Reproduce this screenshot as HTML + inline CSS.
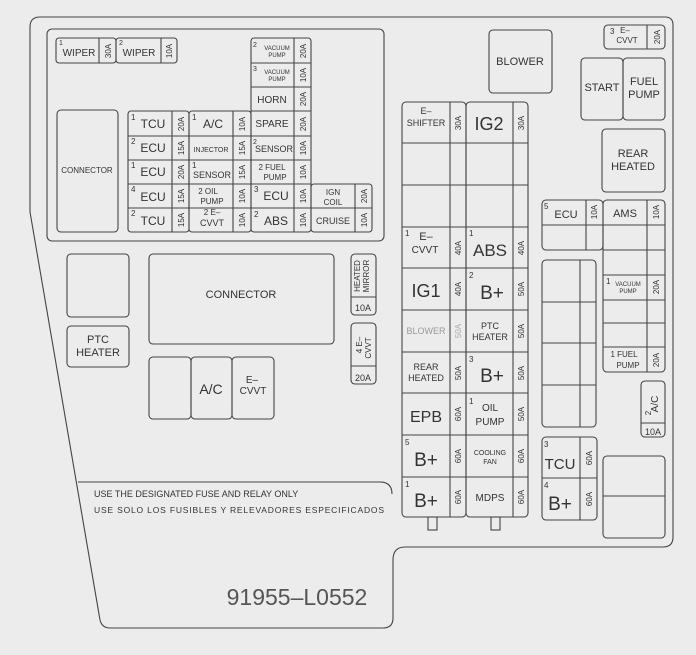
<!DOCTYPE html>
<html><head><meta charset="utf-8"><style>
html,body{margin:0;padding:0;background:#ececec;}
svg{display:block;}
text{font-family:"Liberation Sans",sans-serif;fill:#333;}
</style></head><body>
<svg width="696" height="655" viewBox="0 0 696 655" xmlns="http://www.w3.org/2000/svg">
<rect width="696" height="655" fill="#ececec"/>
<g fill="none" stroke="#444" stroke-width="1.1">
<path d="M40 17 H665 Q673 17 673 25 V537 Q673 547 663 547 H405 Q393 547 393 560 V618 Q393 628 383 628 H110 Q102 628 100 620 L30 212 V27 Q30 17 40 17 Z"/>
<path d="M78 482 H380 Q392 482 392 494"/>
<rect x="47" y="29" width="337" height="212" rx="5"/>
<rect x="57" y="110" width="61" height="122" rx="4"/>
<rect x="489" y="30" width="63" height="63" rx="4"/>
<rect x="581" y="58" width="42" height="62" rx="4"/>
<rect x="623" y="58" width="42" height="62" rx="4"/>
<rect x="602" y="129" width="63" height="63" rx="4"/>
<rect x="604" y="25" width="61" height="24" rx="4"/><line x1="647" y1="25" x2="647" y2="49"/>
<rect x="67" y="254" width="62" height="63" rx="4"/>
<rect x="67" y="326" width="62" height="41" rx="4"/>
<rect x="149" y="254" width="185" height="90" rx="4"/>
<rect x="149" y="357" width="42" height="62" rx="4"/>
<rect x="191" y="357" width="41" height="62" rx="4"/>
<rect x="232" y="357" width="42" height="62" rx="4"/>
<rect x="351" y="254" width="25" height="61" rx="4"/><line x1="351" y1="297" x2="376" y2="297"/>
<rect x="351" y="323" width="25" height="61" rx="4"/><line x1="351" y1="366" x2="376" y2="366"/>
<rect x="402" y="102" width="64" height="415" rx="4"/>
<rect x="466" y="102" width="62" height="415" rx="4"/>
<line x1="450" y1="102" x2="450" y2="517"/><line x1="513" y1="102" x2="513" y2="517"/>
<path d="M402 143H528M402 185H528M402 227H528M402 268H528M402 310H528M402 352H528M402 393H528M402 435H528M402 477H528"/>
<rect x="428" y="517" width="9" height="13"/><rect x="491" y="517" width="9" height="13"/>
<rect x="542" y="200" width="61" height="50" rx="4"/><line x1="586" y1="200" x2="586" y2="250"/><line x1="542" y1="225" x2="603" y2="225"/>
<rect x="603" y="200" width="62" height="172" rx="4"/><line x1="647" y1="200" x2="647" y2="372"/>
<path d="M603 225H665M603 250H665M603 275H665M603 300H665M603 323H665M603 347H665"/>
<rect x="542" y="260" width="54" height="167" rx="4"/><line x1="580" y1="260" x2="580" y2="427"/>
<path d="M542 302H596M542 343H596M542 385H596"/>
<rect x="542" y="437" width="55" height="83" rx="4"/><line x1="580" y1="437" x2="580" y2="520"/><line x1="542" y1="478" x2="597" y2="478"/>
<rect x="641" y="381" width="24" height="56" rx="4"/><line x1="641" y1="423" x2="665" y2="423"/>
<rect x="603" y="456" width="62" height="82" rx="4"/><line x1="603" y1="496" x2="665" y2="496"/>
<rect x="56" y="38" width="60" height="25" rx="3"/><line x1="99" y1="38" x2="99" y2="63"/>
<rect x="116" y="38" width="61" height="25" rx="3"/><line x1="161" y1="38" x2="161" y2="63"/>
<rect x="251" y="38" width="60" height="194" rx="3"/><line x1="294" y1="38" x2="294" y2="232"/>
<path d="M251 63H311M251 87H311M251 111H311M251 136H311M251 160H311M251 184H311M251 208H311"/>
<rect x="128" y="111" width="61" height="121" rx="3"/><line x1="172" y1="111" x2="172" y2="232"/>
<rect x="189" y="111" width="62" height="121" rx="3"/><line x1="233" y1="111" x2="233" y2="232"/>
<path d="M128 136H251M128 160H251M128 184H251M128 208H251"/>
<rect x="311" y="184" width="61" height="48" rx="3"/><line x1="355" y1="184" x2="355" y2="232"/><line x1="311" y1="208" x2="372" y2="208"/>
</g>

<g font-size="11" text-anchor="middle">
<text x="79" y="56" font-size="10">WIPER</text><text x="59" y="45" font-size="7" text-anchor="start">1</text>
<text x="139" y="56" font-size="10">WIPER</text><text x="119" y="45" font-size="7" text-anchor="start">2</text>
<text x="87" y="173" font-size="8">CONNECTOR</text>
<g font-size="6"><text x="277" y="50">VACUUM</text><text x="277" y="57">PUMP</text><text x="277" y="74">VACUUM</text><text x="277" y="81">PUMP</text></g>
<g font-size="7" text-anchor="start"><text x="253" y="47">2</text><text x="253" y="71">3</text></g>
<text x="272" y="103" font-size="10">HORN</text>
<text x="272" y="127" font-size="10">SPARE</text>
<text x="274" y="152" font-size="9">SENSOR</text><text x="253" y="144" font-size="7" text-anchor="start">2</text>
<text x="272" y="170" font-size="8">2 FUEL</text><text x="275" y="180" font-size="8">PUMP</text>
<text x="276" y="200" font-size="12">ECU</text><text x="254" y="192" font-size="8" text-anchor="start">3</text>
<text x="276" y="225" font-size="12">ABS</text><text x="254" y="217" font-size="8" text-anchor="start">2</text>
<text x="153" y="128" font-size="12">TCU</text><text x="131" y="120" font-size="8" text-anchor="start">1</text>
<text x="153" y="152" font-size="12">ECU</text><text x="131" y="144" font-size="8" text-anchor="start">2</text>
<text x="153" y="176" font-size="12">ECU</text><text x="131" y="168" font-size="8" text-anchor="start">1</text>
<text x="153" y="201" font-size="12">ECU</text><text x="131" y="192" font-size="8" text-anchor="start">4</text>
<text x="153" y="225" font-size="12">TCU</text><text x="131" y="216" font-size="8" text-anchor="start">2</text>
<text x="213" y="128" font-size="12">A/C</text><text x="192" y="120" font-size="8" text-anchor="start">1</text>
<text x="211" y="152" font-size="7">INJECTOR</text>
<text x="212" y="178" font-size="9">SENSOR</text><text x="192" y="168" font-size="8" text-anchor="start">1</text>
<text x="208" y="194" font-size="8">2  OIL</text><text x="212" y="204" font-size="8">PUMP</text>
<text x="212" y="215" font-size="8">2 E–</text><text x="212" y="226" font-size="9">CVVT</text>
<text x="333" y="195" font-size="8">IGN</text><text x="333" y="205" font-size="8">COIL</text>
<text x="333" y="224" font-size="9">CRUISE</text>
<g font-size="8">
<text transform="translate(111,51) rotate(-90)">30A</text>
<text transform="translate(172,51) rotate(-90)">10A</text>
<text transform="translate(306,51) rotate(-90)">20A</text>
<text transform="translate(306,75) rotate(-90)">10A</text>
<text transform="translate(306,99) rotate(-90)">20A</text>
<text transform="translate(306,124) rotate(-90)">20A</text>
<text transform="translate(306,148) rotate(-90)">10A</text>
<text transform="translate(306,172) rotate(-90)">10A</text>
<text transform="translate(306,196) rotate(-90)">10A</text>
<text transform="translate(306,220) rotate(-90)">10A</text>
<text transform="translate(184,124) rotate(-90)">20A</text>
<text transform="translate(184,148) rotate(-90)">15A</text>
<text transform="translate(184,172) rotate(-90)">20A</text>
<text transform="translate(184,196) rotate(-90)">15A</text>
<text transform="translate(184,220) rotate(-90)">15A</text>
<text transform="translate(245,124) rotate(-90)">10A</text>
<text transform="translate(245,148) rotate(-90)">15A</text>
<text transform="translate(245,172) rotate(-90)">15A</text>
<text transform="translate(245,196) rotate(-90)">10A</text>
<text transform="translate(245,220) rotate(-90)">10A</text>
<text transform="translate(367,196) rotate(-90)">20A</text>
<text transform="translate(367,220) rotate(-90)">10A</text>
</g>
<text x="520" y="65" font-size="11">BLOWER</text>
<text x="602" y="91" font-size="11">START</text>
<text x="644" y="85" font-size="11">FUEL</text><text x="644" y="98" font-size="11">PUMP</text>
<text x="633" y="157" font-size="11">REAR</text><text x="633" y="170" font-size="11">HEATED</text>
<text x="610" y="34" font-size="8" text-anchor="start">3</text><text x="625" y="33" font-size="8">E–</text><text x="627" y="43" font-size="8">CVVT</text>
<text transform="translate(660,37) rotate(-90)" font-size="8">20A</text>
<text x="98" y="343" font-size="11">PTC</text><text x="98" y="356" font-size="11">HEATER</text>
<text x="241" y="298" font-size="11">CONNECTOR</text>
<text x="211" y="394" font-size="14">A/C</text>
<text x="252" y="383" font-size="10">E–</text><text x="253" y="394" font-size="10">CVVT</text>
<text transform="translate(360,276) rotate(-90)" font-size="8">HEATED</text>
<text transform="translate(369,276) rotate(-90)" font-size="8">MIRROR</text>
<text x="363" y="311" font-size="9">10A</text>
<text transform="translate(362,345) rotate(-90)" font-size="8">4  E–</text>
<text transform="translate(371,348) rotate(-90)" font-size="8">CVVT</text>
<text x="363" y="381" font-size="9">20A</text>
<text x="426" y="114" font-size="9">E–</text><text x="426" y="126" font-size="9">SHIFTER</text>
<text x="489" y="130" font-size="18">IG2</text>
<text x="426" y="240" font-size="11">E–</text><text x="425" y="253" font-size="10">CVVT</text><text x="405" y="236" font-size="8" text-anchor="start">1</text>
<text x="490" y="256" font-size="17">ABS</text><text x="469" y="236" font-size="8" text-anchor="start">1</text>
<text x="426" y="297" font-size="18">IG1</text>
<text x="492" y="299" font-size="19">B+</text><text x="469" y="278" font-size="8" text-anchor="start">2</text>
<text x="426" y="334" font-size="9" style="fill:#999">BLOWER</text>
<text x="490" y="329" font-size="9">PTC</text><text x="490" y="340" font-size="9">HEATER</text>
<text x="426" y="370" font-size="9">REAR</text><text x="426" y="381" font-size="9">HEATED</text>
<text x="492" y="382" font-size="19">B+</text><text x="469" y="362" font-size="8" text-anchor="start">3</text>
<text x="426" y="422" font-size="16">EPB</text>
<text x="490" y="411" font-size="10">OIL</text><text x="490" y="425" font-size="10">PUMP</text><text x="469" y="404" font-size="8" text-anchor="start">1</text>
<text x="426" y="466" font-size="19">B+</text><text x="405" y="445" font-size="8" text-anchor="start">5</text>
<text x="490" y="455" font-size="7">COOLING</text><text x="490" y="464" font-size="7">FAN</text>
<text x="426" y="507" font-size="19">B+</text><text x="405" y="487" font-size="8" text-anchor="start">1</text>
<text x="490" y="501" font-size="10">MDPS</text>
<g font-size="8">
<text transform="translate(461,123) rotate(-90)">30A</text>
<text transform="translate(524,123) rotate(-90)">30A</text>
<text transform="translate(461,248) rotate(-90)">40A</text>
<text transform="translate(524,248) rotate(-90)">40A</text>
<text transform="translate(461,289) rotate(-90)">40A</text>
<text transform="translate(524,289) rotate(-90)">50A</text>
<text transform="translate(461,331) rotate(-90)" style="fill:#aaa">50A</text>
<text transform="translate(524,331) rotate(-90)">50A</text>
<text transform="translate(461,373) rotate(-90)">50A</text>
<text transform="translate(524,373) rotate(-90)">50A</text>
<text transform="translate(461,414) rotate(-90)">60A</text>
<text transform="translate(524,414) rotate(-90)">50A</text>
<text transform="translate(461,456) rotate(-90)">60A</text>
<text transform="translate(524,456) rotate(-90)">60A</text>
<text transform="translate(461,497) rotate(-90)">60A</text>
<text transform="translate(524,497) rotate(-90)">60A</text>
</g>
<text x="566" y="218" font-size="11">ECU</text><text x="544" y="209" font-size="8" text-anchor="start">5</text>
<text x="625" y="217" font-size="11">AMS</text>
<text x="628" y="286" font-size="6">VACUUM</text><text x="628" y="293" font-size="6">PUMP</text><text x="606" y="284" font-size="8" text-anchor="start">1</text>
<text x="624" y="357" font-size="8">1 FUEL</text><text x="628" y="368" font-size="8">PUMP</text>
<text transform="translate(597,212) rotate(-90)" font-size="8">10A</text>
<text transform="translate(659,212) rotate(-90)" font-size="8">10A</text>
<text transform="translate(659,287) rotate(-90)" font-size="8">20A</text>
<text transform="translate(659,360) rotate(-90)" font-size="8">20A</text>
<text transform="translate(658,404) rotate(-90)" font-size="10">A/C</text>
<text transform="translate(651,413) rotate(-90)" font-size="8">2</text>
<text x="653" y="435" font-size="9">10A</text>
<text x="560" y="469" font-size="15">TCU</text><text x="544" y="447" font-size="8" text-anchor="start">3</text>
<text x="560" y="510" font-size="19">B+</text><text x="544" y="488" font-size="8" text-anchor="start">4</text>
<text transform="translate(592,458) rotate(-90)" font-size="8">60A</text>
<text transform="translate(592,499) rotate(-90)" font-size="8">60A</text>
<text x="94" y="497" font-size="9" text-anchor="start">USE THE DESIGNATED FUSE AND RELAY ONLY</text>
<text x="94" y="513" font-size="8.5" text-anchor="start" textLength="290">USE SOLO LOS FUSIBLES Y RELEVADORES ESPECIFICADOS</text>
<text x="297" y="605" font-size="23" style="fill:#555">91955–L0552</text>
</g>
</svg>
</body></html>
